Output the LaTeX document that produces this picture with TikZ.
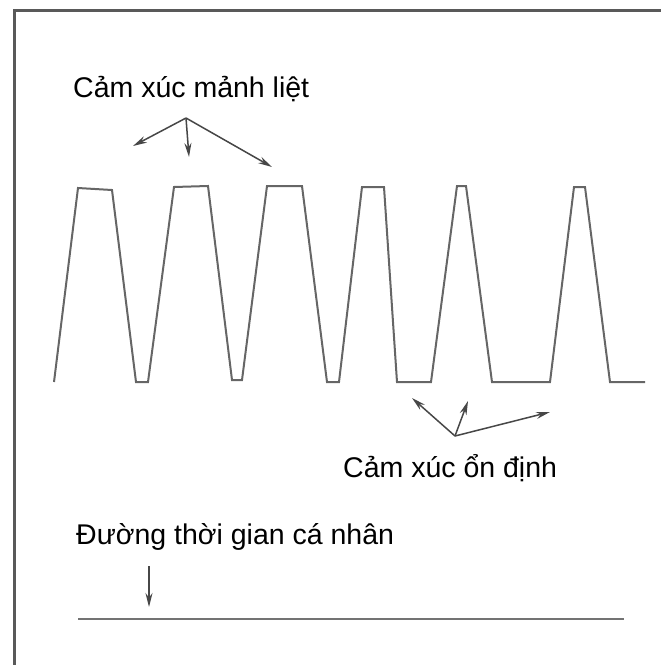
\documentclass[tikz,border=0pt]{standalone}
\usepackage{fontspec}
\setmainfont{Liberation Sans}
\usetikzlibrary{arrows.meta}

\begin{document}
\begin{tikzpicture}[
		x=1pt,
		y=-1pt,
		caption/.style={
			anchor=base west,
			inner sep=0pt,
			font=\fontsize{28.5}{34}\selectfont
		},
		pointer/.style={
			-{Stealth[length=14pt,width=7pt]},
			draw=black!72,
			fill=black!72,
			line width=1.5pt
		},
		wave/.style={
			draw=black!60,
			line width=2pt,
			line join=miter
		},
		frameline/.style={
			draw=black!65,
			line width=3pt
		}
		]
		\useasboundingbox (0,0) rectangle (661,665);
		
		% frame (only top and left side)
		\draw[frameline] (661,10) -- (14,10) -- (14,665);
		
		% labels
		\node[caption] (strong) at (73,97) {Cảm xúc mảnh liệt};
		\node[caption] (stable) at (343,477) {Cảm xúc ổn định};
		\node[caption] (timeline) at (76,544) {Đường thời gian cá nhân};
		
		% emotion curve
		\draw[wave] (54,382) -- (78,188) -- (112,190) -- (136,382) -- (148,382)
			-- (174,187) -- (208,186) -- (232,380) -- (242,380)
			-- (267,186) -- (302,186) -- (327,382) -- (339,382)
			-- (362,187) -- (384,187) -- (397,382) -- (431,382)
			-- (457,186) -- (466,186) -- (492,382) -- (550,382)
			-- (574,187) -- (585,187) -- (610,382) -- (645,382);
		
		% life line
		\draw[draw=black!55,line width=2.5pt] (78,619) coordinate (lifestart) -- (624,619) coordinate (lifeend);
		
		% arrow hubs and tips
		\coordinate (hubtop) at (186,118);
		\coordinate (peakA) at (133,146);
		\coordinate (peakB) at (189,157);
		\coordinate (peakC) at (272,167);
		\coordinate (hubbottom) at (455,436);
		\coordinate (flatA) at (412,398);
		\coordinate (flatB) at (468,401);
		\coordinate (flatC) at (550,412);
		\coordinate (lifetop) at (149,566);
		\coordinate (lifetip) at (149,607);
		
		\draw[pointer] (hubtop) -- (peakA);
		\draw[pointer] (hubtop) -- (peakB);
		\draw[pointer] (hubtop) -- (peakC);
		\draw[pointer] (hubbottom) -- (flatA);
		\draw[pointer] (hubbottom) -- (flatB);
		\draw[pointer] (hubbottom) -- (flatC);
		\draw[pointer] (lifetop) -- (lifetip);
		\end{tikzpicture}
\end{document}
